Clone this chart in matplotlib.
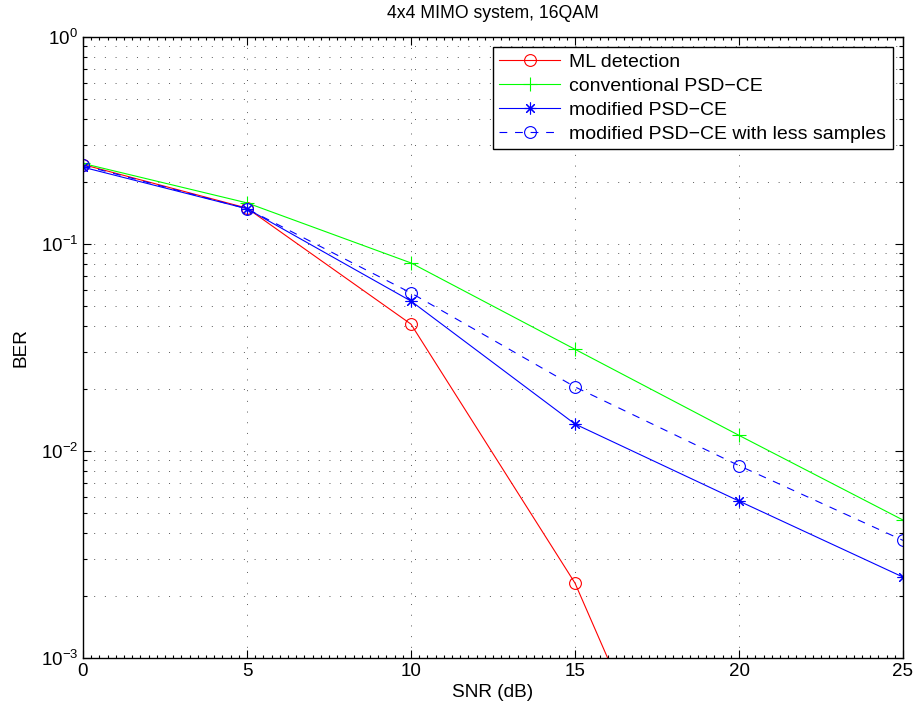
import matplotlib
matplotlib.use("Agg")
import matplotlib.pyplot as plt
import numpy as np
from matplotlib.ticker import LogLocator, NullFormatter, MultipleLocator

plt.rcParams['font.family'] = ['Liberation Sans', 'DejaVu Sans']
plt.rcParams['mathtext.fontset'] = 'custom'
plt.rcParams['mathtext.rm'] = 'Liberation Sans'
plt.rcParams['mathtext.it'] = 'Liberation Sans'
plt.rcParams['mathtext.bf'] = 'Liberation Sans'

snr = [0, 5, 10, 15, 20, 25]
ber_ml = [0.242, 0.149, 0.041, 0.0023, 3.5e-5, 1e-6]
ber_conv = [0.245, 0.158, 0.081, 0.031, 0.0119, 0.00464]
ber_mod = [0.235, 0.148, 0.053, 0.0135, 0.00573, 0.00246]
ber_mod_less = [0.240, 0.148, 0.058, 0.0204, 0.0085, 0.0037]

labels = ["ML detection", "conventional PSD\u2212CE", "modified PSD\u2212CE",
          "modified PSD\u2212CE with less samples"]
title = "4x4 MIMO system, 16QAM"
xlabel = "SNR (dB)"
ylabel = "BER"

W, H = 915, 713
fig = plt.figure(figsize=(W / 100, H / 100), dpi=100)
ax = fig.add_axes([83 / W, (H - 658) / H, (903 - 83) / W, (658 - 37) / H])

lw = 0.8
ms = 8.5
asterisk = (8, 2, 0)
ax.semilogy(snr, ber_ml, color=(1, 0, 0), lw=lw, marker='o', ms=ms, mfc='none', mew=lw, label=labels[0])
ax.semilogy(snr, ber_conv, color=(0, 1, 0), lw=lw, marker='+', ms=ms + 1, mew=lw, label=labels[1])
ax.semilogy(snr, ber_mod, color=(0, 0, 1), lw=lw, marker=asterisk, ms=ms, mew=lw, label=labels[2])
ax.semilogy(snr, ber_mod_less, color=(0, 0, 1), lw=lw, ls=(0, (7, 7)), marker='o', ms=ms, mfc='none', mew=lw, label=labels[3])

ax.set_xlim(0, 25)
ax.set_ylim(1e-3, 1)
ax.xaxis.set_major_locator(MultipleLocator(5))
ax.xaxis.set_minor_locator(MultipleLocator(0.25))
ax.yaxis.set_major_locator(LogLocator(base=10, numticks=10))
ax.yaxis.set_minor_locator(LogLocator(base=10, subs=np.arange(2, 10), numticks=20))
ax.yaxis.set_minor_formatter(NullFormatter())

gstyle = dict(ls=(0, (1, 10)), color='0.35', lw=0.7)
ax.grid(True, which='major', axis='both', **gstyle)
ax.grid(True, which='minor', axis='y', **gstyle)
ax.tick_params(which='both', direction='in', top=True, right=True, labelsize=13.5, width=0.8)
ax.tick_params(which='major', length=6)
ax.tick_params(which='minor', length=3)
ax.tick_params(axis='x', which='minor', length=2.5)
for s in ax.spines.values():
    s.set_linewidth(1.0)

ax.set_title(title, fontsize=12.7, pad=14)
ax.set_xlabel(xlabel, fontsize=13.7, labelpad=3)
ax.set_ylabel(ylabel, fontsize=13.7, labelpad=8)

leg = ax.legend(loc='upper right', fontsize=14, fancybox=False, framealpha=1,
                edgecolor='k', handlelength=3.1, borderaxespad=0.5,
                borderpad=0.35, labelspacing=0.32, handletextpad=0.5)
leg.get_frame().set_linewidth(1.0)

fig.savefig("out.png", dpi=100)
